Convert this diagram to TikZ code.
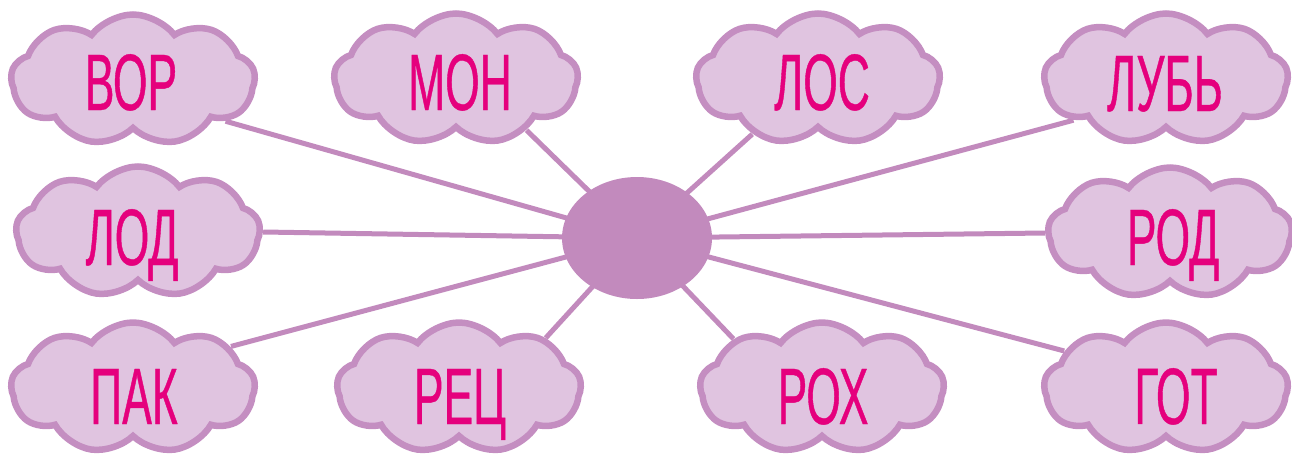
\documentclass[tikz,border=0pt]{standalone}
\usepackage{fontspec}
\newfontfamily\condfont[FakeStretch=0.555,FakeBold=0.5]{Liberation Sans}
\usetikzlibrary{shapes.symbols,shapes.geometric,backgrounds}
\definecolor{cfill}{RGB}{224,196,224}
\definecolor{cedge}{RGB}{196,142,193}
\definecolor{ctext}{RGB}{229,0,125}
\definecolor{hub}{RGB}{194,138,189}
\begin{document}
\begin{tikzpicture}[x=1pt,y=-1pt,
  puff/.style={cloud, cloud puffs=9, cloud puff arc=105, aspect=1.8,
    minimum width=244pt, minimum height=131pt, fill=cfill, draw=cedge,
    line width=6.5pt, inner sep=0pt},
  word/.style={anchor=base, text=ctext, inner sep=0pt,
    font=\condfont\fontsize{80}{80}\selectfont},
  spoke/.style={draw=hub, line width=5pt}]
\useasboundingbox (0,0) rectangle (1292,459);
% clouds
\node[puff] (cvor) at (133,80) {};
\node[puff] (cmon) at (456,79) {};
\node[puff] (clos) at (818,79) {};
\node[puff] (club) at (1166,79) {};
\node[puff] (clod) at (138,232) {};
\node[puff] (crod) at (1170,233) {};
\node[puff] (cpak) at (133,388) {};
\node[puff] (crec) at (459,388) {};
\node[puff] (crox) at (822,388) {};
\node[puff] (cgot) at (1166,388) {};
% words
\node[word] (tvor) at (131,110) {ВОР};
\node[word] (tmon) at (460,110) {МОН};
\node[word] (tlos) at (822,110) {ЛОС};
\node[word] (tlub) at (1165,111) {ЛУБЬ};
\node[word] (tlod) at (132,265) {ЛОД};
\node[word] (trod) at (1173,265) {РОД};
\node[word] (tpak) at (134,424) {ПАК};
\node[word] (trec) at (460,424) {РЕЦ};
\node[word] (trox) at (823,424) {РОХ};
\node[word] (tgot) at (1176,424) {ГОТ};
% hub
\node[ellipse, fill=hub, minimum width=150pt, minimum height=122pt, inner sep=0pt] (hubnode) at (637,238) {};
\begin{scope}[on background layer]
\draw[spoke] (cvor.-24) -- (hubnode.center);
\draw[spoke] (cmon.-36) -- (hubnode.center);
\draw[spoke] (clos.-140) -- (hubnode.center);
\draw[spoke] (club.-156) -- (hubnode.center);
\draw[spoke] (clod.east) -- (hubnode.center);
\draw[spoke] (crod.west) -- (hubnode.center);
\draw[spoke] (cpak.23) -- (hubnode.center);
\draw[spoke] (crec.30) -- (hubnode.center);
\draw[spoke] (crox.151) -- (hubnode.center);
\draw[spoke] (cgot.160) -- (hubnode.center);
\end{scope}
\end{tikzpicture}
\end{document}
